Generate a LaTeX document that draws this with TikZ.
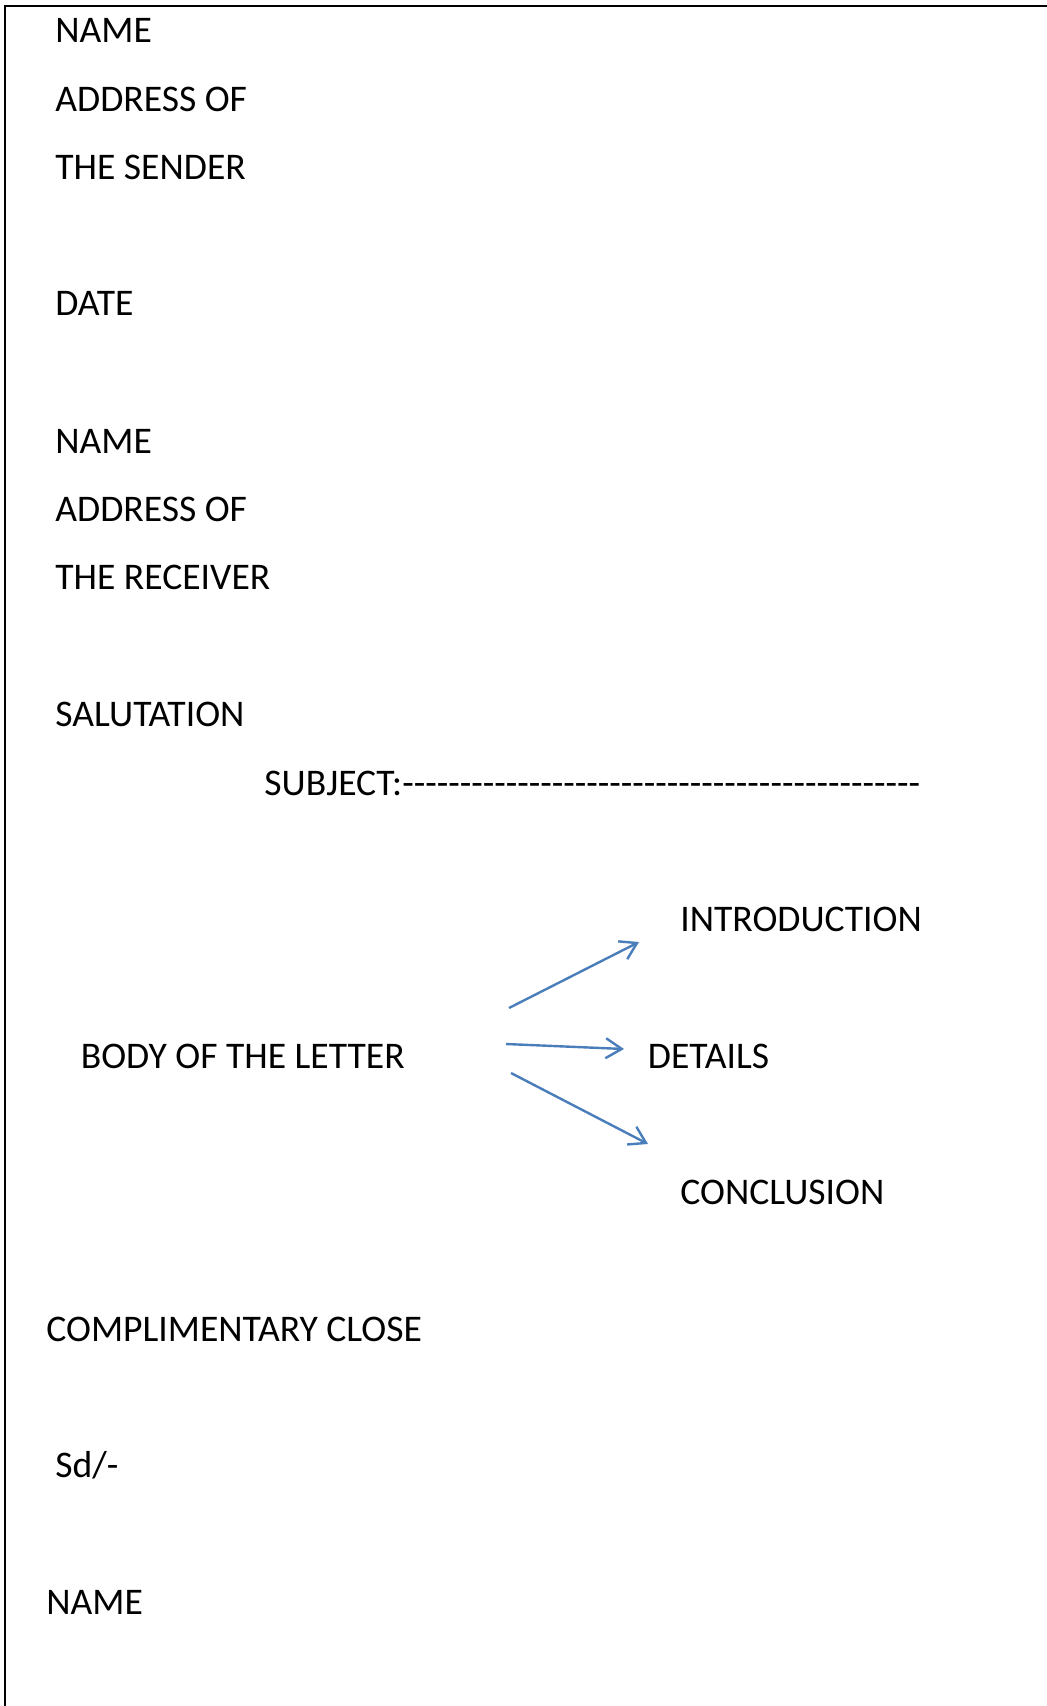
\documentclass[tikz,border=0pt]{standalone}
\usepackage{fontspec}
\setmainfont{Carlito}
\usetikzlibrary{arrows.meta}
\definecolor{arrowblue}{HTML}{4A7EBB}
\tikzset{
  lbl/.style={anchor=base west, inner sep=0pt, font=\fontsize{18.8}{23}\selectfont},
  pointer/.style={draw=arrowblue, line width=1.2pt, -{Straight Barb[length=8pt,width=10pt]}}
}
\newcommand{\dashrow}{\foreach \k in {1,...,45}{\hbox{-}}}

\begin{document}
\begin{tikzpicture}[x=0.5pt,y=-0.5pt]
\useasboundingbox (0,0) rectangle (1046,1706);
\draw [black, line width=1pt] (5,1712) -- (5,6) -- (1052,6);
\node [lbl] (sendname) at (55,43) {NAME};
\node [lbl] (sendaddr) at (55,111.5) {ADDRESS OF};
\node [lbl] (sender) at (55,180) {THE SENDER};
\node [lbl] (date) at (55,316) {DATE};
\node [lbl] (recvname) at (55,453) {NAME};
\node [lbl] (recvaddr) at (55,521) {ADDRESS OF};
\node [lbl] (receiver) at (55,589) {THE RECEIVER};
\node [lbl] (salut) at (55,726.5) {SALUTATION};
\node [lbl] (subject) at (264,795) {SUBJECT:\dashrow};
\node [lbl] (intro) at (680,931) {INTRODUCTION};
\node [lbl] (body) at (80.5,1068) {BODY OF THE LETTER};
\node [lbl] (details) at (647.5,1068) {DETAILS};
\node [lbl] (concl) at (680,1204.5) {CONCLUSION};
\node [lbl] (close) at (46,1341.5) {COMPLIMENTARY CLOSE};
\node [lbl] (sd) at (55,1477.5) {Sd/-};
\node [lbl] (signname) at (46,1614.5) {NAME};
\coordinate (introfrom) at (509,1008);
\coordinate (introto) at (639,942);
\coordinate (detailsfrom) at (506,1044);
\coordinate (detailsto) at (624,1049);
\coordinate (conclfrom) at (511,1073);
\coordinate (conclto) at (648,1144);
\draw [pointer] (introfrom) -- (introto);
\draw [pointer] (detailsfrom) -- (detailsto);
\draw [pointer] (conclfrom) -- (conclto);
\end{tikzpicture}
\end{document}
